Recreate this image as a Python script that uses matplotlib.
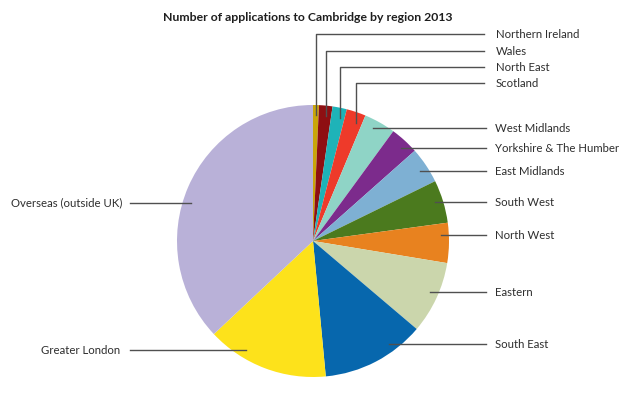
import numpy as np
import matplotlib.pyplot as plt

# share of applications (%), read clockwise from 12 o'clock
regions = ['Northern Ireland', 'Wales', 'North East', 'Scotland', 'West Midlands',
           'Yorkshire & The Humber', 'East Midlands', 'South West', 'North West',
           'Eastern', 'South East', 'Greater London', 'Overseas (outside UK)']
shares = [0.7, 1.6, 1.7, 2.3, 3.75, 3.4, 4.3, 5.1, 4.75, 8.6, 12.3, 14.5, 37.0]
colors = ['#c9a60a', '#8e0f12', '#1eb3b8', '#ee3a2a', '#8fd4c6', '#7c2b8c',
          '#7eb0d3', '#4b7a1e', '#e8821f', '#cbd6ac', '#0767ad', '#fde21b', '#b9b1d8']

W, H = 624, 412
cx, cy, R = 313, H - 241, 136

plt.rcParams['font.family'] = ['Lato', 'DejaVu Sans']
fig = plt.figure(figsize=(W / 100, H / 100), dpi=100)
ax = fig.add_axes([0, 0, 1, 1])

wedges, _ = ax.pie(shares, colors=colors, startangle=90, counterclock=False,
                   center=(cx, cy), radius=R, wedgeprops=dict(linewidth=0))
ax.set_xlim(0, W)
ax.set_ylim(0, H)
ax.set_aspect('equal')
ax.axis('off')

txt_col = '#2e2e2e'
line_col = '#505050'
r_in = 128

# small slices at top: vertical leader then horizontal to label
top_y = [34, 51, 67, 83]
for i, ly in enumerate(top_y):
    w = wedges[i]
    mid = np.deg2rad((w.theta1 + w.theta2) / 2)
    vx = cx + R * np.cos(mid)
    vy_end = cy + np.sqrt(126 ** 2 - (vx - cx) ** 2)
    y = H - ly
    ax.plot([vx, vx, 484], [vy_end, y, y], color=line_col, lw=1)
    ax.text(496, y, regions[i], ha='left', va='center', fontsize=8.2, color=txt_col)

# right-side labels
right_y = [128, 148, 171, 202, 235, 292, 344]
for i, ly in zip(range(4, 11), right_y):
    y = H - ly
    x0 = cx + np.sqrt(r_in ** 2 - (y - cy) ** 2)
    ax.plot([x0, 486], [y, y], color=line_col, lw=1)
    ax.text(495, y, regions[i], ha='left', va='center', fontsize=8.2, color=txt_col)

# left-side labels
left = [(11, 'Greater London', 350, 41), (12, 'Overseas (outside UK)', 203, 11)]
for i, name, ly, tx in left:
    y = H - ly
    x1 = cx - np.sqrt(r_in ** 2 - (y - cy) ** 2)
    ax.plot([130, x1], [y, y], color=line_col, lw=1)
    ax.text(tx, y, name, ha='left', va='center', fontsize=8.2, color=txt_col)

ax.text(308, H - 17, 'Number of applications to Cambridge by region 2013',
        ha='center', va='center', fontsize=8.8, fontweight='bold', color='#1e1e1e')

fig.savefig('out.png', dpi=100)
